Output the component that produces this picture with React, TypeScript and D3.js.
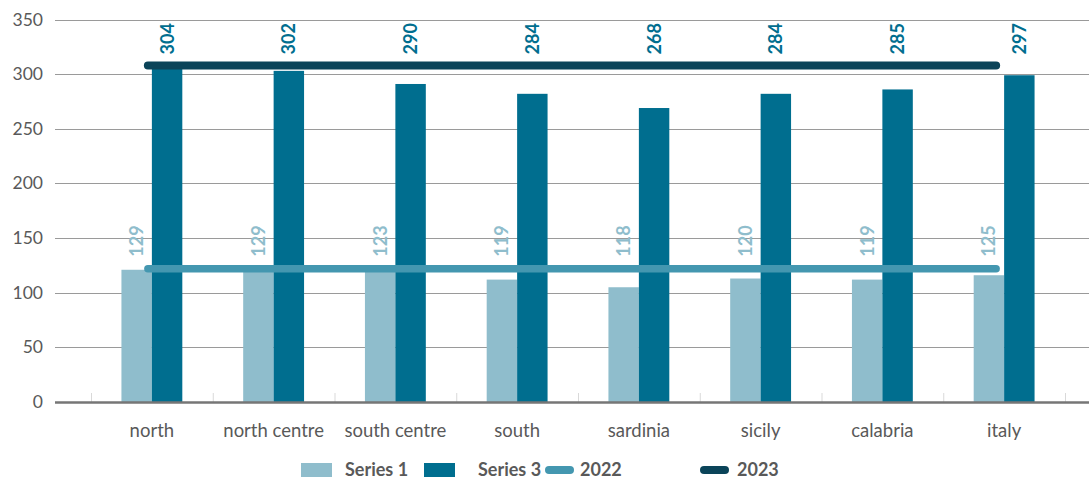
import React from "react";
import * as d3 from "d3";

const categories = ["north", "north centre", "south centre", "south", "sardinia", "sicily", "calabria", "italy"];
const series1 = [121, 121, 122, 112, 105, 113, 112, 116];
const series3 = [306, 303, 291, 282, 269, 282, 286, 299];
const labels1 = [129, 129, 123, 119, 118, 120, 119, 125];
const labels3 = [304, 302, 290, 284, 268, 284, 285, 297];
const line2022 = 122;
const line2023 = 308;
const yTicks = [0, 50, 100, 150, 200, 250, 300, 350];
const legendItems = ["Series 1", "Series 3", "2022", "2023"];

const W = 1089;
const H = 477;
const C1 = "#8fbdcc";
const C3 = "#006e8f";
const C22 = "#4497b0";
const C23 = "#0b4459";
const FONT = "Lato, 'Open Sans', sans-serif";

export default function App() {
  const x = d3.scaleBand<string>().domain(categories).range([91, 1065]).paddingInner(0).paddingOuter(0);
  const y = d3.scaleLinear().domain([0, 350]).range([402, 19.5]);
  const bw = x.bandwidth();
  const barW = bw * 0.25;
  const cx = (c: string) => (x(c) as number) + bw / 2;
  const first = cx(categories[0]);
  const last = cx(categories[categories.length - 1]);

  return (
    <svg width={W} height={H} style={{ position: "absolute", left: 0, top: 0, background: "#fff" }} fontFamily={FONT}>
      {yTicks.map((t) => (
        <g key={t}>
          {t > 0 && <line x1={55} x2={W} y1={Math.round(y(t)) + 0.5} y2={Math.round(y(t)) + 0.5} stroke="#9a9a9a" strokeWidth={1} />}
          <text x={43} y={y(t) + 6} textAnchor="end" fontSize={17.5} fill="#595959">{t}</text>
        </g>
      ))}
      {categories.map((c, i) => (
        <line key={"tk" + i} x1={(x(c) as number) + 0.5} x2={(x(c) as number) + 0.5} y1={393} y2={402} stroke="#d9d9d9" />
      ))}
      <line x1={1065.5} x2={1065.5} y1={393} y2={402} stroke="#d9d9d9" />
      {categories.map((c, i) => (
        <g key={c}>
          <rect x={cx(c) - barW} y={y(series1[i])} width={barW} height={y(0) - y(series1[i])} fill={C1} />
          <rect x={cx(c)} y={y(series3[i])} width={barW} height={y(0) - y(series3[i])} fill={C3} />
        </g>
      ))}
      <line x1={55} x2={W} y1={402.5} y2={402.5} stroke="#767676" strokeWidth={2.7} />
      <line x1={first - 4} x2={last - 8} y1={y(line2022)} y2={y(line2022)} stroke={C22} strokeWidth={7.5} strokeLinecap="round" />
      <line x1={first - 4} x2={last - 8} y1={y(line2023)} y2={y(line2023)} stroke={C23} strokeWidth={8} strokeLinecap="round" />
      {categories.map((c, i) => (
        <g key={"lb" + c}>
          <text transform={`translate(${cx(c) - barW / 2 + 6.5},${y(line2022) - 12}) rotate(-90)`} fontSize={18} fontWeight={700} fill={C1}>{labels1[i]}</text>
          <text transform={`translate(${cx(c) + barW / 2 + 6.5},${y(line2023) - 11}) rotate(-90)`} fontSize={18} fontWeight={700} fill={C3}>{labels3[i]}</text>
          <text x={cx(c)} y={437} textAnchor="middle" fontSize={18.5} fill="#595959">{c}</text>
        </g>
      ))}
      <g fontSize={18} fontWeight={700} fill="#595959">
        <rect x={301} y={463} width={31} height={14} fill={C1} />
        <text x={345} y={476}>{legendItems[0]}</text>
        <rect x={424} y={463} width={31} height={14} fill={C3} />
        <text x={478} y={476}>{legendItems[1]}</text>
        <line x1={549} x2={570} y1={470} y2={470} stroke={C22} strokeWidth={8} strokeLinecap="round" />
        <text x={580} y={476}>{legendItems[2]}</text>
        <line x1={704} x2={725} y1={470} y2={470} stroke={C23} strokeWidth={8} strokeLinecap="round" />
        <text x={737} y={476}>{legendItems[3]}</text>
      </g>
    </svg>
  );
}
